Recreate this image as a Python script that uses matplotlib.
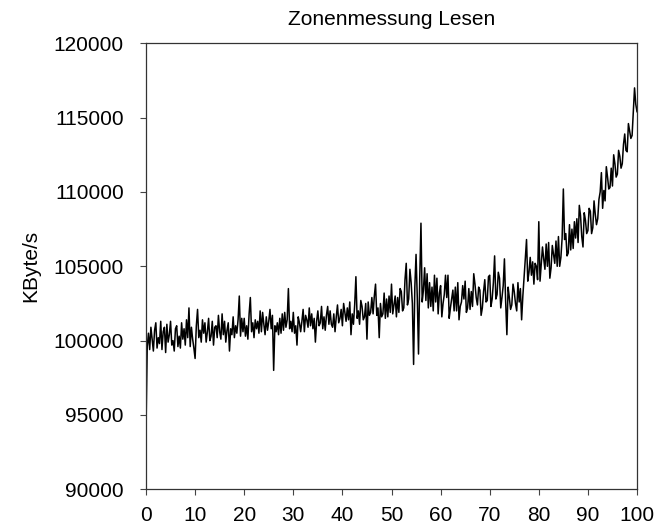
import numpy as np
import matplotlib
matplotlib.use("Agg")
import matplotlib.pyplot as plt

plt.rcParams['font.family'] = ['Liberation Sans', 'DejaVu Sans']

title = "Zonenmessung Lesen"
ylabel = "KByte/s"
x_ticks = [0, 10, 20, 30, 40, 50, 60, 70, 80, 90, 100]
y_ticks = [90000, 95000, 100000, 105000, 110000, 115000, 120000]

# throughput in thousands of KByte/s (step 0.25 %)
rate_0_10 = [94.0, 99.6, 100.5, 99.4, 100.9, 100.1, 99.3, 100.7, 101.2, 99.5,
             100.2, 99.8, 101.3, 99.4, 100.6, 100.9, 99.2, 101.1, 99.9, 100.4,
             101.3, 99.7, 100.0, 99.3, 100.8, 101.0, 99.6, 100.3, 99.5, 101.2,
             100.1, 100.8, 99.7, 101.4, 100.2, 102.2, 99.6, 100.9, 100.1, 99.5]
rate_10_20 = [98.8, 101.0, 102.1, 100.2, 100.7, 99.9, 101.4, 100.5, 101.2, 99.9,
              100.6, 101.5, 100.0, 100.3, 101.3, 99.7, 100.9, 101.0, 100.2, 101.7,
              100.6, 100.1, 101.8, 100.4, 101.3, 99.9, 100.7, 101.2, 99.3, 100.8,
              100.4, 101.6, 100.2, 101.0, 100.5, 101.4, 103.0, 100.3, 101.5, 100.6]
rate_20_30 = [101.5, 100.3, 101.0, 100.1, 101.8, 102.9, 100.6, 101.2, 100.2, 101.4,
              100.8, 101.3, 100.5, 102.0, 100.6, 101.9, 101.1, 100.4, 101.6, 100.7,
              101.3, 102.1, 100.8, 101.7, 98.0, 101.0, 100.6, 101.2, 100.4, 101.5,
              100.5, 101.8, 100.7, 101.9, 100.9, 101.4, 103.5, 100.8, 101.3, 100.6]
rate_30_40 = [101.9, 100.5, 101.0, 99.7, 101.6, 101.2, 100.6, 101.3, 102.1, 100.6,
              101.7, 101.4, 100.9, 102.2, 101.0, 101.8, 100.8, 101.5, 99.9, 101.3,
              102.0, 101.0, 101.2, 102.3, 100.8, 101.6, 100.7, 101.7, 102.3, 101.1,
              102.0, 101.1, 100.9, 101.8, 100.6, 101.6, 102.4, 101.2, 101.5, 102.1]
rate_40_50 = [101.0, 102.5, 101.9, 101.3, 102.2, 101.4, 102.6, 100.4, 101.8, 101.1,
              102.4, 104.3, 101.5, 102.0, 101.1, 102.7, 102.3, 101.4, 101.6, 102.5,
              100.1, 102.6, 101.7, 101.9, 102.9, 101.8, 103.0, 103.8, 101.7, 102.2,
              100.2, 102.5, 101.6, 101.8, 103.2, 101.5, 102.8, 101.6, 103.0, 101.9]
rate_50_60 = [103.8, 101.8, 102.4, 103.0, 101.6, 102.9, 101.9, 103.5, 103.3, 102.0,
              102.2, 104.1, 105.2, 102.4, 102.8, 104.8, 103.9, 102.5, 98.4, 103.6,
              105.8, 102.9, 99.1, 104.2, 107.9, 102.6, 103.4, 104.9, 102.7, 104.5,
              102.2, 103.9, 102.3, 103.6, 102.0, 104.4, 102.6, 104.2, 101.8, 103.2]
rate_60_70 = [103.7, 101.6, 102.5, 103.1, 104.4, 102.9, 104.4, 101.5, 102.2, 102.8,
              103.4, 102.0, 103.6, 102.0, 103.9, 101.4, 102.3, 102.6, 103.7, 102.8,
              104.0, 101.9, 102.2, 103.5, 102.1, 103.3, 102.3, 104.5, 103.8, 102.9,
              102.4, 103.6, 103.4, 101.7, 102.2, 103.3, 104.1, 102.6, 102.7, 104.3]
rate_70_80 = [104.4, 102.3, 102.8, 103.9, 105.7, 102.8, 103.1, 104.6, 104.2, 102.2,
              102.9, 103.7, 105.5, 102.6, 100.4, 103.6, 102.9, 102.1, 102.4, 103.8,
              103.3, 102.5, 102.0, 103.9, 102.6, 103.5, 101.4, 103.0, 104.2, 105.5,
              106.8, 104.0, 104.6, 105.6, 104.4, 105.3, 103.8, 105.2, 105.0, 104.1]
rate_80_90 = [108.0, 104.0, 105.2, 106.3, 105.5, 104.8, 106.5, 105.0, 106.6, 104.2,
              104.9, 106.4, 105.8, 105.2, 106.7, 105.0, 107.0, 105.0, 105.6, 106.9,
              110.2, 106.8, 107.2, 105.7, 105.9, 107.8, 106.1, 107.5, 106.2, 108.0,
              106.9, 108.2, 106.6, 109.1, 108.4, 107.0, 106.3, 108.6, 108.1, 107.2]
rate_90_100 = [107.4, 108.9, 108.7, 107.2, 107.6, 109.4, 108.5, 107.8, 108.2, 109.5,
               110.0, 111.3, 108.9, 110.1, 109.4, 111.7, 111.0, 110.2, 110.3, 111.6,
               110.4, 112.5, 111.9, 111.0, 111.2, 112.8, 112.4, 111.6, 111.9, 113.2,
               113.9, 112.8, 112.7, 114.6, 114.1, 113.6, 113.8, 115.4, 117.0, 115.9,
               115.4]

rate_k = (rate_0_10 + rate_10_20 + rate_20_30 + rate_30_40 + rate_40_50 +
          rate_50_60 + rate_60_70 + rate_70_80 + rate_80_90 + rate_90_100)
rate = np.array(rate_k) * 1000.0
# position in percent
position = [i * 0.25 for i in range(len(rate_k))]

fig = plt.figure(figsize=(6.56, 5.27), dpi=100)
ax = fig.add_axes([146 / 656, 1 - 489.3 / 527, (637 - 146) / 656, (489.3 - 43.3) / 527])

ax.plot(position, rate, color='black', linewidth=1.1)

ax.set_xlim(0, 100)
ax.set_ylim(90000, 120000)
ax.set_xticks(x_ticks)
ax.set_xticklabels([str(t) for t in x_ticks])
ax.set_yticks(y_ticks)
ax.set_yticklabels([str(t) for t in y_ticks])
ax.tick_params(direction='out', length=4, width=0.8, labelsize=15, color='#444444')
ax.tick_params(axis='y', pad=12)
ax.tick_params(axis='x', pad=8)

for s in ax.spines.values():
    s.set_color('#333333')
    s.set_linewidth(0.9)

ax.set_title(title, fontsize=15, pad=13)
ax.set_ylabel(ylabel, fontsize=15)
ax.yaxis.set_label_coords(-0.216, 0.5)

fig.savefig("out.png", dpi=100)
